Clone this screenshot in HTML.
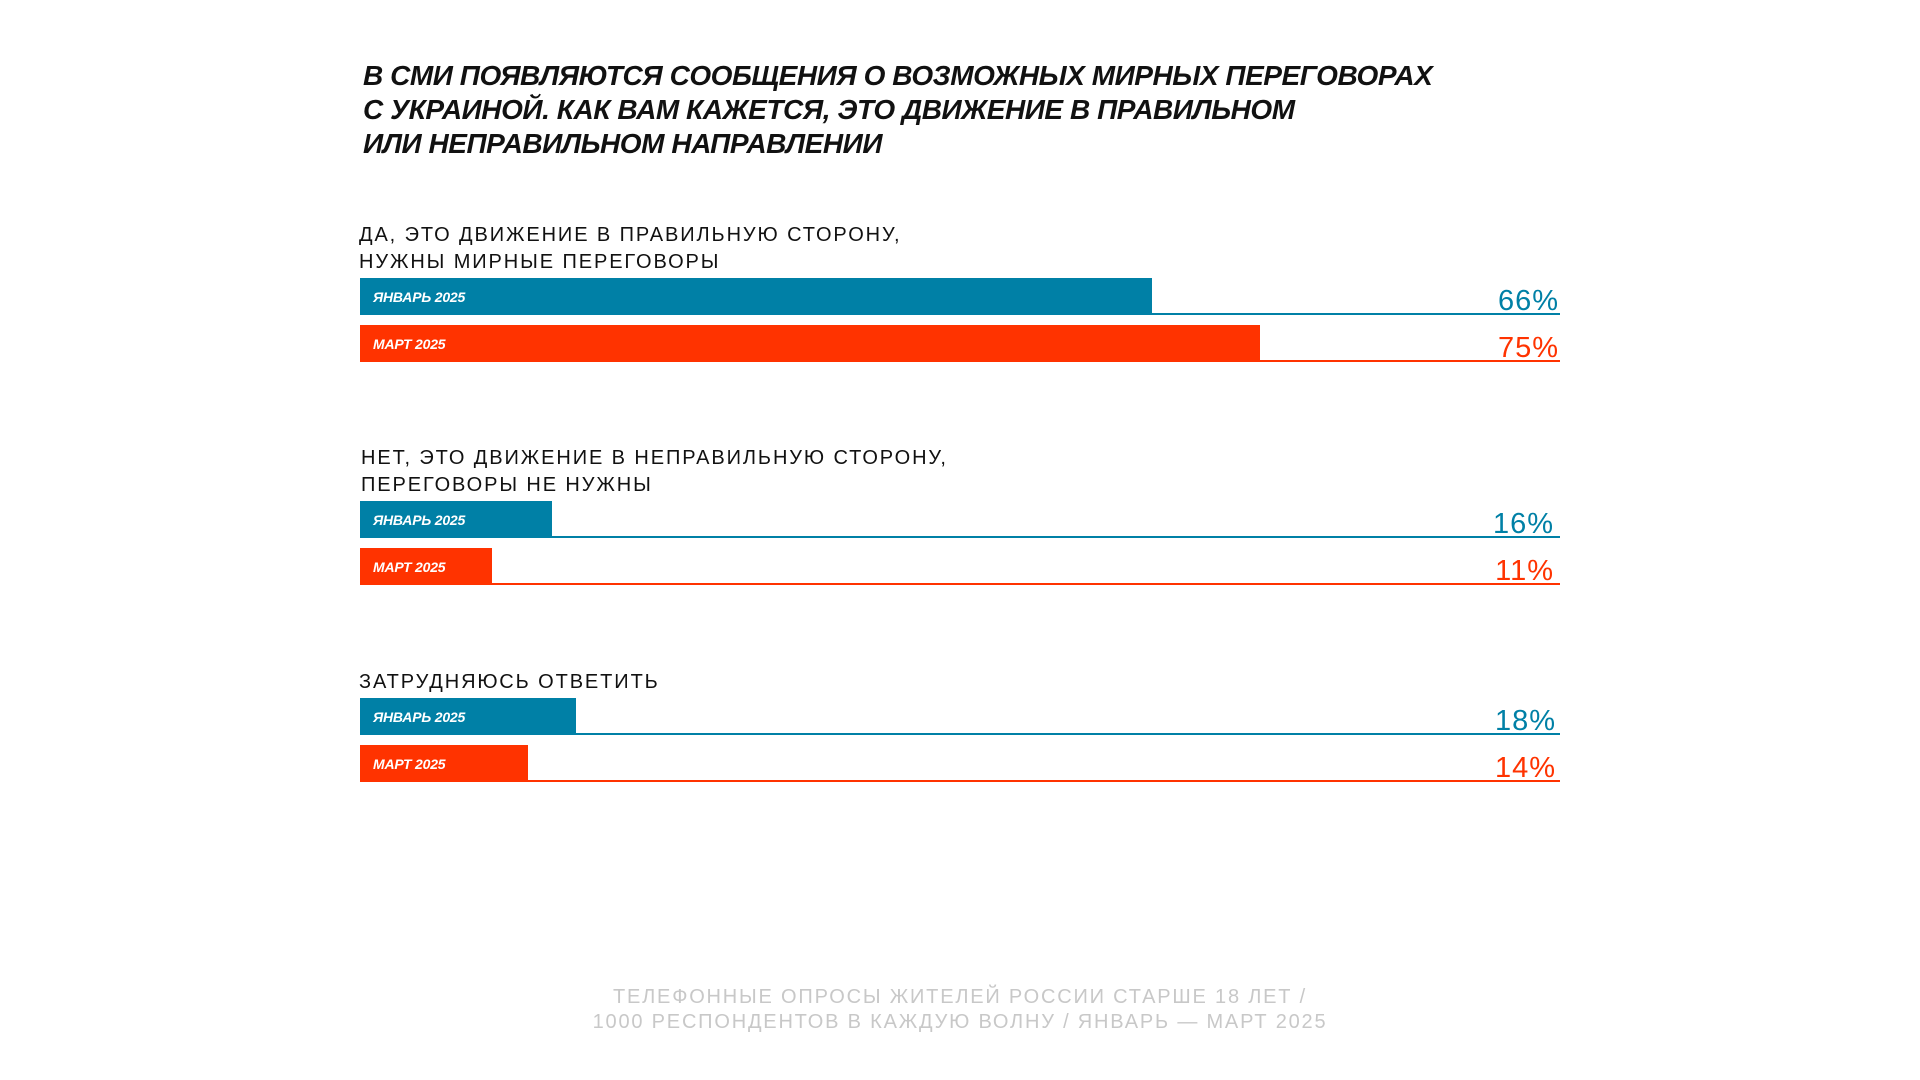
<!DOCTYPE html>
<html><head><meta charset="utf-8"><style>
body{margin:0;width:1920px;height:1080px;background:#fff;position:relative;overflow:hidden;font-family:"Liberation Sans","DejaVu Sans",sans-serif}
.t{position:absolute;left:363px;top:59px;font-size:28px;font-weight:bold;font-style:italic;line-height:34px;color:#111;letter-spacing:-0.45px}
.lab{position:absolute;left:359px;font-size:20px;line-height:27px;color:#111;letter-spacing:1.9px}
.bar{position:absolute;left:360px;height:37px}
.bar span{position:absolute;left:13px;top:11px;color:#fff;font-size:14px;font-weight:bold;font-style:italic;letter-spacing:-0.2px}
.ln{position:absolute;left:360px;width:1200px;height:2px}
.pc{position:absolute;right:361px;font-size:29px;line-height:29px;letter-spacing:1px}
.b{background:#0080a6}.r{background:#ff3300}
.cb{color:#0080a6}.cr{color:#ff3300}
.f{position:absolute;left:0;width:1920px;top:985px;text-align:center;color:#c8c8c8;font-size:20px;line-height:25px;letter-spacing:1.8px}
</style></head><body>
<div class="t">В СМИ ПОЯВЛЯЮТСЯ СООБЩЕНИЯ О ВОЗМОЖНЫХ МИРНЫХ ПЕРЕГОВОРАХ<br>С УКРАИНОЙ. КАК ВАМ КАЖЕТСЯ, ЭТО ДВИЖЕНИЕ В ПРАВИЛЬНОМ<br>ИЛИ НЕПРАВИЛЬНОМ НАПРАВЛЕНИИ</div>

<div class="lab" style="top:222px">ДА, ЭТО ДВИЖЕНИЕ В ПРАВИЛЬНУЮ СТОРОНУ,<br>НУЖНЫ МИРНЫЕ ПЕРЕГОВОРЫ</div>
<div class="ln b" style="top:313px"></div>
<div class="bar b" style="top:278px;width:792px"><span>ЯНВАРЬ 2025</span></div>
<div class="pc cb" style="top:287px">66%</div>
<div class="ln r" style="top:360px"></div>
<div class="bar r" style="top:325px;width:900px"><span>МАРТ 2025</span></div>
<div class="pc cr" style="top:334px">75%</div>

<div class="lab" style="top:445px;left:361px">НЕТ, ЭТО ДВИЖЕНИЕ В НЕПРАВИЛЬНУЮ СТОРОНУ,<br>ПЕРЕГОВОРЫ НЕ НУЖНЫ</div>
<div class="ln b" style="top:536px"></div>
<div class="bar b" style="top:501px;width:192px"><span>ЯНВАРЬ 2025</span></div>
<div class="pc cb" style="top:510px;right:366px">16%</div>
<div class="ln r" style="top:583px"></div>
<div class="bar r" style="top:548px;width:132px"><span>МАРТ 2025</span></div>
<div class="pc cr" style="top:557px;right:366px">11%</div>

<div class="lab" style="top:669px">ЗАТРУДНЯЮСЬ ОТВЕТИТЬ</div>
<div class="ln b" style="top:733px"></div>
<div class="bar b" style="top:698px;width:216px"><span>ЯНВАРЬ 2025</span></div>
<div class="pc cb" style="top:707px;right:364px">18%</div>
<div class="ln r" style="top:780px"></div>
<div class="bar r" style="top:745px;width:168px"><span>МАРТ 2025</span></div>
<div class="pc cr" style="top:754px;right:364px">14%</div>

<div class="f">ТЕЛЕФОННЫЕ ОПРОСЫ ЖИТЕЛЕЙ РОССИИ СТАРШЕ 18 ЛЕТ /<br>1000 РЕСПОНДЕНТОВ В КАЖДУЮ ВОЛНУ / ЯНВАРЬ — МАРТ 2025</div>
</body></html>
